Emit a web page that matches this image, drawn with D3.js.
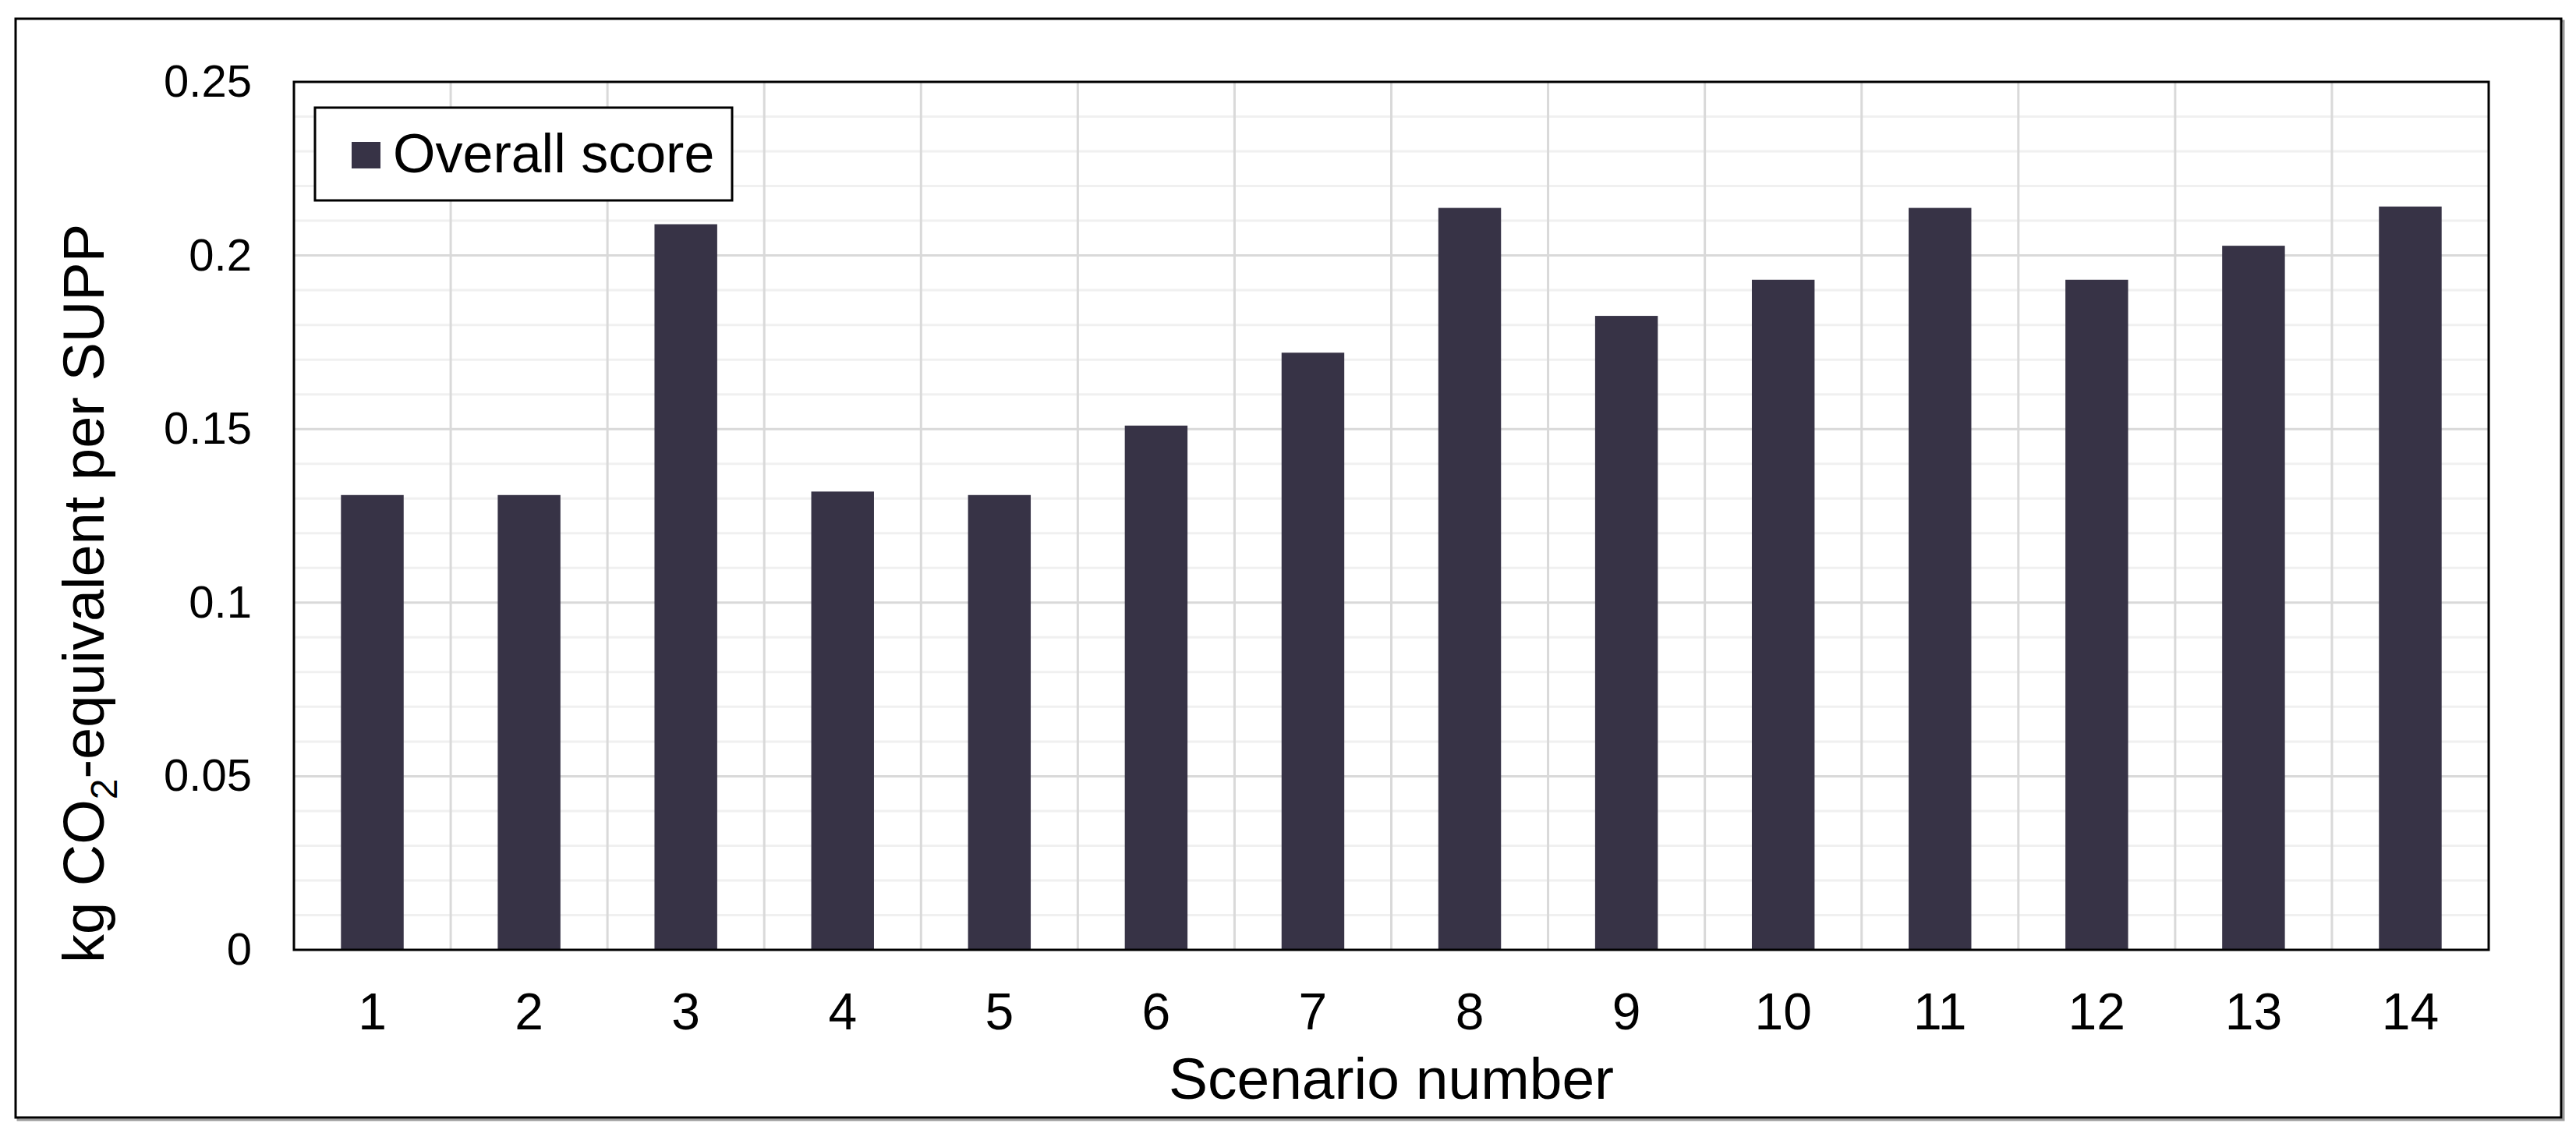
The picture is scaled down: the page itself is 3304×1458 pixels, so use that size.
<!DOCTYPE html>
<html>
<head>
<meta charset="utf-8">
<script src="https://cdn.jsdelivr.net/npm/d3@7"></script>
<style>
  body { margin: 0; background: #fff; }
  text { font-family: "Liberation Sans", Arial, sans-serif; fill: #000; }
</style>
</head>
<body>
<div id="chart"></div>
<script>
// data
var scenarios = ["1","2","3","4","5","6","7","8","9","10","11","12","13","14"];
var overallScore = [0.131, 0.131, 0.209, 0.132, 0.131, 0.151, 0.172, 0.2137, 0.1826, 0.193, 0.2137, 0.193, 0.2028, 0.2141];
var yTicks = [0, 0.05, 0.1, 0.15, 0.2, 0.25];
var seriesName = "Overall score";

var data = scenarios.map(function(s, i) { return {scenario: s, value: overallScore[i]}; });

// layout
var W = 3304, H = 1458;
var plot = {left: 377, right: 3192, top: 105, bottom: 1218};
var barColor = "#373346";

var svg = d3.select("#chart")
  .append("svg")
    .attr("width", W)
    .attr("height", H);

// outer chart border with a little shadow
svg.append("rect")
  .attr("x", 23).attr("y", 27)
  .attr("width", 3265).attr("height", 1409)
  .attr("fill", "none")
  .attr("stroke", "#9a9a9a")
  .attr("stroke-width", 3);
svg.append("rect")
  .attr("x", 20).attr("y", 24)
  .attr("width", 3265).attr("height", 1409)
  .attr("fill", "#fff")
  .attr("stroke", "#000")
  .attr("stroke-width", 3);

// scales
var x = d3.scaleBand()
  .domain(scenarios)
  .range([plot.left, plot.right])
  .paddingInner(0.6)
  .paddingOuter(0.3);

var y = d3.scaleLinear()
  .domain([0, 0.25])
  .range([plot.bottom, plot.top]);

// minor horizontal gridlines every 0.01
var minor = y.ticks(25).filter(function(d) { return Math.round(d * 100) % 5 !== 0; });
svg.append("g")
  .selectAll("line")
  .data(minor)
  .enter().append("line")
    .attr("x1", plot.left).attr("x2", plot.right)
    .attr("y1", function(d) { return y(d); })
    .attr("y2", function(d) { return y(d); })
    .attr("stroke", "#f0f0f0")
    .attr("stroke-width", 3);

// major horizontal gridlines
svg.append("g")
  .selectAll("line")
  .data(yTicks.slice(1, -1))
  .enter().append("line")
    .attr("x1", plot.left).attr("x2", plot.right)
    .attr("y1", function(d) { return y(d); })
    .attr("y2", function(d) { return y(d); })
    .attr("stroke", "#d9d9d9")
    .attr("stroke-width", 3);

// vertical gridlines between categories
svg.append("g")
  .selectAll("line")
  .data(scenarios.slice(1))
  .enter().append("line")
    .attr("x1", function(d) { return x(d) - x.step() * x.paddingOuter(); })
    .attr("x2", function(d) { return x(d) - x.step() * x.paddingOuter(); })
    .attr("y1", plot.top).attr("y2", plot.bottom)
    .attr("stroke", "#d9d9d9")
    .attr("stroke-width", 3);

// bars
svg.append("g")
  .selectAll("rect")
  .data(data)
  .enter().append("rect")
    .attr("x", function(d) { return x(d.scenario); })
    .attr("y", function(d) { return y(d.value); })
    .attr("width", x.bandwidth())
    .attr("height", function(d) { return y(0) - y(d.value); })
    .attr("fill", barColor);

// plot area border
svg.append("rect")
  .attr("x", plot.left).attr("y", plot.top)
  .attr("width", plot.right - plot.left)
  .attr("height", plot.bottom - plot.top)
  .attr("fill", "none")
  .attr("stroke", "#000")
  .attr("stroke-width", 3);

// y axis labels
var yAxis = d3.axisLeft(y)
  .tickValues(yTicks)
  .tickSize(0)
  .tickPadding(54)
  .tickFormat(function(d) { return String(+d.toFixed(2)); });
svg.append("g")
  .attr("transform", "translate(" + plot.left + ",0)")
  .call(yAxis)
  .call(function(g) { g.select(".domain").remove(); })
  .selectAll("text")
    .attr("font-size", 58)
    .attr("font-family", "Liberation Sans, Arial, sans-serif")
    .attr("fill", "#000");

// x axis labels
var xAxis = d3.axisBottom(x)
  .tickSize(0)
  .tickPadding(55);
svg.append("g")
  .attr("transform", "translate(0," + plot.bottom + ")")
  .call(xAxis)
  .call(function(g) { g.select(".domain").remove(); })
  .selectAll("text")
    .attr("font-size", 66)
    .attr("font-family", "Liberation Sans, Arial, sans-serif")
    .attr("fill", "#000");

// axis titles
svg.append("text")
  .attr("x", (plot.left + plot.right) / 2)
  .attr("y", 1409)
  .attr("text-anchor", "middle")
  .attr("font-size", 75)
  .text("Scenario number");

var yTitle = svg.append("text")
  .attr("transform", "translate(133,761) rotate(-90)")
  .attr("text-anchor", "middle")
  .attr("font-size", 74);
yTitle.append("tspan").text("kg CO");
yTitle.append("tspan").attr("font-size", 48).attr("dy", 17).text("2");
yTitle.append("tspan").attr("dy", -17).text("-equivalent per SUPP");

// legend
var legend = svg.append("g");
legend.append("rect")
  .attr("x", 404).attr("y", 138)
  .attr("width", 535).attr("height", 119)
  .attr("fill", "#fff")
  .attr("stroke", "#000")
  .attr("stroke-width", 3);
legend.append("rect")
  .attr("x", 451).attr("y", 182)
  .attr("width", 37).attr("height", 34)
  .attr("fill", barColor);
legend.append("text")
  .attr("x", 504).attr("y", 221)
  .attr("font-size", 70)
  .text(seriesName);
</script>
</body>
</html>
